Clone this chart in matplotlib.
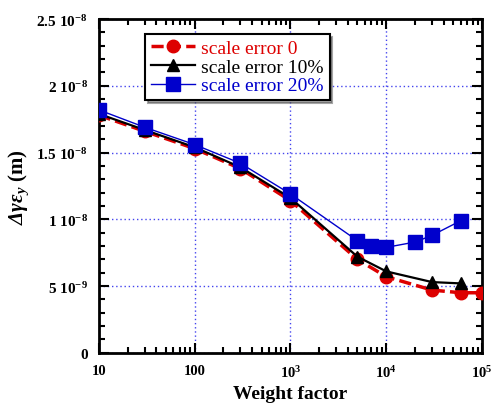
import math
import matplotlib
matplotlib.use("Agg")
import matplotlib.pyplot as plt
from matplotlib.ticker import MultipleLocator, FuncFormatter, LogLocator, NullFormatter

plt.rcParams['font.family'] = ['Liberation Serif', 'DejaVu Serif']
plt.rcParams['mathtext.fontset'] = 'custom'
plt.rcParams['mathtext.rm'] = 'Liberation Serif:bold'
plt.rcParams['mathtext.it'] = 'Liberation Serif:bold:italic'
plt.rcParams['mathtext.bf'] = 'Liberation Serif:bold'
plt.rcParams['mathtext.bfit'] = 'Liberation Serif:bold:italic'

# datos
pesos_0 = [10, 30, 100, 300, 1000, 5000, 10000, 30000, 60000, 100000]
err_0 = [17.8e-9, 16.6e-9, 15.3e-9, 13.8e-9, 11.4e-9, 7.0e-9, 5.7e-9, 4.7e-9, 4.5e-9, 4.5e-9]

pesos_10 = [10, 30, 100, 300, 1000, 5000, 10000, 30000, 60000]
err_10 = [17.9e-9, 16.7e-9, 15.4e-9, 13.9e-9, 11.6e-9, 7.2e-9, 6.1e-9, 5.3e-9, 5.2e-9]

pesos_20 = [10, 30, 100, 300, 1000, 5000, 7000, 10000, 20000, 30000, 60000]
err_20 = [18.2e-9, 16.9e-9, 15.6e-9, 14.2e-9, 11.9e-9, 8.4e-9, 8.0e-9, 7.9e-9, 8.3e-9, 8.8e-9, 9.9e-9]

etiquetas = ["scale error 0", "scale error 10%", "scale error 20%"]

fig = plt.figure(figsize=(4.94, 4.10), dpi=100)
ax = fig.add_axes([0.200, 0.137, 0.776, 0.814])

ax.plot(pesos_0, err_0, color="#dd0000", linestyle="--", linewidth=2.5, marker="o",
        markersize=9, dashes=(3.5, 1.5), label=etiquetas[0], zorder=3)
ax.plot(pesos_10, err_10, color="black", linewidth=1.6, marker="^",
        markersize=9, label=etiquetas[1], zorder=4)
ax.plot(pesos_20, err_20, color="#0000cc", linewidth=1.0, marker="s",
        markersize=10, label=etiquetas[2], zorder=5)

ax.set_xscale("log")
ax.set_xlim(10, 1e5)
ax.set_ylim(0, 2.5e-8)

def fmt_x(v, pos):
    if v < 500:
        return "%d" % round(v)
    return r"$10^{%d}$" % round(math.log10(v))

def fmt_y(v, pos):
    if v == 0:
        return "0"
    if abs(v) < 1e-8 - 1e-12:
        return r"$%g\ 10^{-9}$" % round(v * 1e9, 1)
    return r"$%g\ 10^{-8}$" % round(v * 1e8, 1)

ax.xaxis.set_major_formatter(FuncFormatter(fmt_x))
ax.xaxis.set_minor_locator(LogLocator(base=10, subs=range(2, 10)))
ax.xaxis.set_minor_formatter(NullFormatter())
ax.yaxis.set_major_locator(MultipleLocator(5e-9))
ax.yaxis.set_minor_locator(MultipleLocator(1e-9))
ax.yaxis.set_major_formatter(FuncFormatter(fmt_y))

for lbl in ax.get_xticklabels() + ax.get_yticklabels():
    lbl.set_fontweight("bold")
ax.tick_params(which="both", direction="in", top=True, right=True, labelsize=11, width=1.5)
ax.tick_params(axis="x", labelsize=10.5)
ax.tick_params(which="major", length=7, pad=8)
ax.tick_params(which="minor", length=4)
for s in ax.spines.values():
    s.set_linewidth(2)

ax.grid(True, which="major", color="#4444ee", linestyle=(0, (1, 2)), linewidth=1)

ax.set_xlabel("Weight factor", fontsize=14, fontweight="bold")
ax.set_ylabel(r"$\mathbfit{\Delta\gamma\varepsilon}_{\mathbfit{y}}$ (m)", fontsize=15, fontweight="bold")

leg = ax.legend(loc="upper left", bbox_to_anchor=(0.095, 0.985), fontsize=14, frameon=True,
                fancybox=False, shadow=True, edgecolor="black", handlelength=2.3,
                borderpad=0.3, labelspacing=0.05, handletextpad=0.3)
leg.get_frame().set_linewidth(1.5)
for t, c in zip(leg.get_texts(), ["#dd0000", "black", "#0000cc"]):
    t.set_color(c)

plt.savefig("out.png", dpi=100)
